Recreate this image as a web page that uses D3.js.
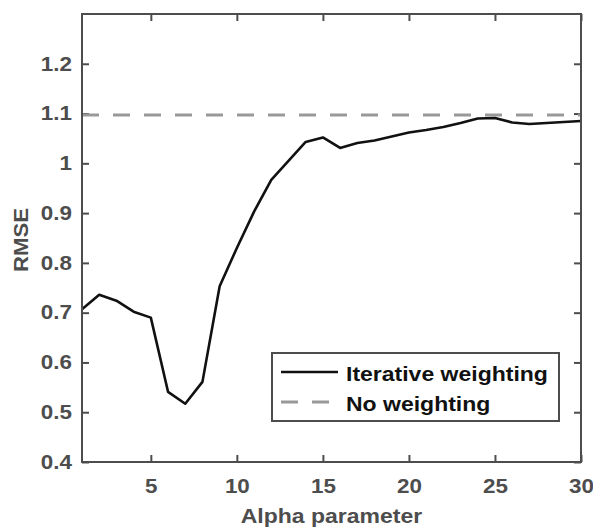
<!DOCTYPE html>
<html>
<head>
<meta charset="utf-8">
<script src="https://cdn.jsdelivr.net/npm/d3@7"></script>
<style>
	body { margin: 0; background: #fff; }
	svg text { font-family: "Liberation Sans", Arial, sans-serif; font-weight: bold; }
	.wide-c { transform-box: fill-box; transform-origin: center; transform: scaleX(1.15); }
	.wide-r { transform-box: fill-box; transform-origin: right center; transform: scaleX(1.15); }
	.wide-l { transform-box: fill-box; transform-origin: left center; transform: scaleX(1.15); }
</style>
</head>
<body>
<div id="chart"></div>
<script>
// data
var alpha = [1, 2, 3, 4, 5, 6, 7, 8, 9, 10, 11, 12, 13, 14, 15, 16, 17, 18, 19, 20, 21, 22, 23, 24, 25, 26, 27, 28, 29, 30];
var iterativeRmse = [0.707, 0.736, 0.724, 0.702, 0.690, 0.541, 0.517, 0.561, 0.753, 0.830, 0.903, 0.967, 1.005, 1.043, 1.052, 1.031, 1.041, 1.046, 1.054, 1.062, 1.067, 1.073, 1.081, 1.090, 1.091, 1.082, 1.079, 1.081, 1.083, 1.085];
var noWeightingRmse = 1.097;
var xTicks = [5, 10, 15, 20, 25, 30];
var yTicks = [0.4, 0.5, 0.6, 0.7, 0.8, 0.9, 1, 1.1, 1.2];
var seriesNames = ["Iterative weighting", "No weighting"];

var LineChart = (function() {
	"use strict";

	var chartWidth = 593,
		chartHeight = 529,
		margin = { top: 14, right: 12, bottom: 67, left: 82 },
		width = chartWidth - margin.left - margin.right,
		height = chartHeight - margin.top - margin.bottom,
		axisColor = "#4d4d4d",
		x = d3.scaleLinear().domain([1, 30]).range([0, width]),
		y = d3.scaleLinear().domain([0.4, 1.3]).range([height, 0]);

	function create(selector) {
		var svg = d3.select(selector)
			.append("svg")
			.attr("width", chartWidth)
			.attr("height", chartHeight);
		var g = svg.append("g")
			.attr("transform", "translate(" + margin.left + "," + margin.top + ")");

		var fmt = function(d) { return String(+d.toFixed(1)); };

		// axes (ticks point inward)
		var xAxis = g.append("g")
			.attr("transform", "translate(0," + height + ")")
			.call(d3.axisBottom(x).tickValues(xTicks).tickSize(-7).tickPadding(17).tickFormat(fmt));
		var yAxis = g.append("g")
			.call(d3.axisLeft(y).tickValues(yTicks).tickSize(-7).tickPadding(10).tickFormat(fmt));
		var xTop = g.append("g")
			.call(d3.axisTop(x).tickValues(xTicks).tickSize(-7).tickFormat(""));
		var yRight = g.append("g")
			.attr("transform", "translate(" + width + ",0)")
			.call(d3.axisRight(y).tickValues(yTicks).tickSize(-7).tickFormat(""));

		[xAxis, yAxis, xTop, yRight].forEach(function(a) {
			a.select(".domain").remove();
			a.selectAll(".tick line").attr("stroke", axisColor).attr("stroke-width", 2);
			a.selectAll(".tick text")
				.attr("fill", axisColor)
				.style("font-size", "19.5px");
		});
		xAxis.selectAll(".tick text").attr("class", "wide-c");
		yAxis.selectAll(".tick text").attr("class", "wide-r");

		// no weighting baseline
		g.append("line")
			.attr("x1", x(1))
			.attr("x2", x(30))
			.attr("y1", y(noWeightingRmse))
			.attr("y2", y(noWeightingRmse))
			.attr("stroke", "#999")
			.attr("stroke-width", 3)
			.attr("stroke-dasharray", "17,14");

		// iterative weighting curve
		var line = d3.line()
			.x(function(d, i) { return x(alpha[i]); })
			.y(function(d) { return y(d); });
		g.append("path")
			.datum(iterativeRmse)
			.attr("fill", "none")
			.attr("stroke", "#111")
			.attr("stroke-width", 2.6)
			.attr("stroke-linejoin", "round")
			.attr("d", line);

		// box
		g.append("rect")
			.attr("width", width)
			.attr("height", height)
			.attr("fill", "none")
			.attr("stroke", axisColor)
			.attr("stroke-width", 2);

		// axis labels
		g.append("text")
			.attr("class", "wide-c")
			.attr("x", width / 2)
			.attr("y", height + 61)
			.attr("text-anchor", "middle")
			.attr("fill", axisColor)
			.style("font-size", "20px")
			.text("Alpha parameter");
		g.append("g")
			.attr("transform", "translate(" + (-54) + "," + (height / 2 + 2) + ") rotate(-90)")
			.append("text")
			.attr("text-anchor", "middle")
			.attr("fill", axisColor)
			.style("font-size", "20px")
			.attr("textLength", 64)
			.attr("lengthAdjust", "spacingAndGlyphs")
			.text("RMSE");

		// legend
		var lg = svg.append("g").attr("transform", "translate(272,353)");
		lg.append("rect")
			.attr("width", 287)
			.attr("height", 68)
			.attr("fill", "#fff")
			.attr("stroke", axisColor)
			.attr("stroke-width", 2);
		var rows = lg.selectAll(".row")
			.data(seriesNames)
			.enter()
			.append("g")
			.attr("class", "row")
			.attr("transform", function(d, i) { return "translate(0," + (19 + i * 30) + ")"; });
		rows.append("line")
			.attr("x1", 9)
			.attr("x2", 66)
			.attr("stroke", function(d, i) { return i ? "#999" : "#111"; })
			.attr("stroke-width", function(d, i) { return i ? 3 : 2.6; })
			.attr("stroke-dasharray", function(d, i) { return i ? "17,14" : null; });
		rows.append("text")
			.attr("class", "wide-l")
			.attr("x", 74)
			.attr("y", 9)
			.attr("fill", "#111")
			.style("font-size", "20px")
			.text(function(d) { return d; });
	}

	return { create: create };
})();

LineChart.create("#chart");
</script>
</body>
</html>
